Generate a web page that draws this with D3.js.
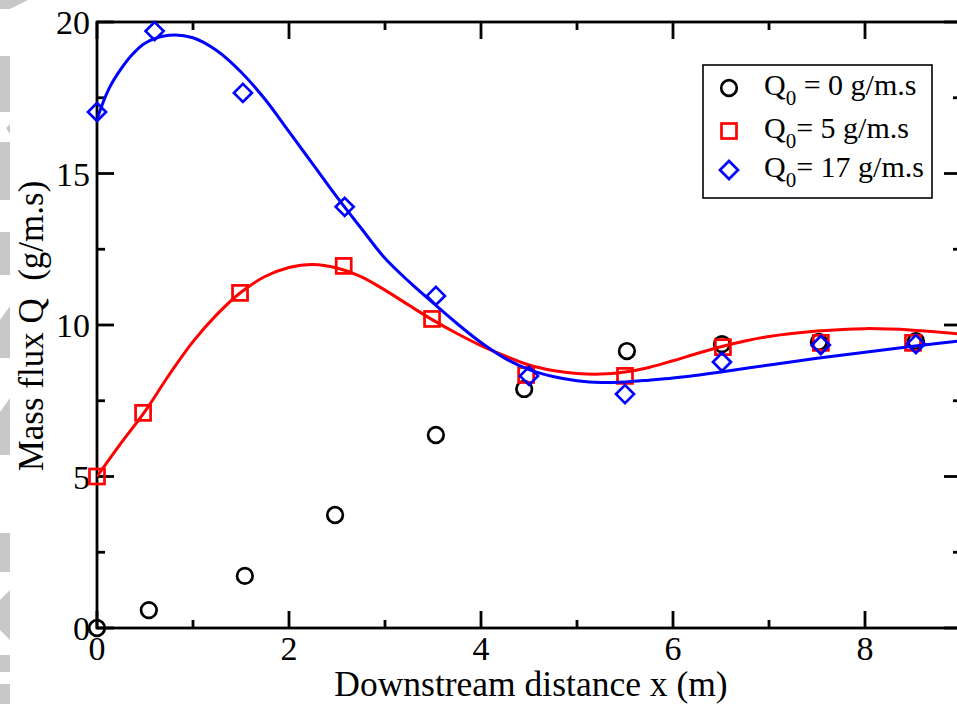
<!DOCTYPE html>
<html><head><meta charset="utf-8">
<script src="https://cdn.jsdelivr.net/npm/d3@7"></script>
<style>body{margin:0;background:#fff}svg{display:block}text{font-family:"Liberation Serif","Times New Roman",serif;fill:#000}</style>
</head><body><svg id="c" width="957" height="704"></svg>
<script>
// ---- data ----
const xTicksMajor = [0, 2, 4, 6, 8];
const xTicksMinor = [1, 3, 5, 7, 9];
const yTicksMajor = [0, 5, 10, 15, 20];
const yTicksMinor = [2.5, 7.5, 12.5, 17.5];

const q0_x = [0, 0.54, 1.54, 2.48, 3.53, 4.45, 5.52, 6.51, 7.52, 8.53];
const q0_y = [0, 0.59, 1.72, 3.73, 6.37, 7.89, 9.14, 9.37, 9.44, 9.47];

const q5_x = [0, 0.48, 1.49, 2.57, 3.49, 4.47, 5.5, 6.52, 7.54, 8.5];
const q5_y = [5.0, 7.1, 11.06, 11.95, 10.2, 8.35, 8.32, 9.27, 9.41, 9.41];

const q17_x = [0, 0.6, 1.52, 2.58, 3.53, 4.5, 5.5, 6.51, 7.54, 8.53];
const q17_y = [17.03, 19.7, 17.66, 13.9, 10.96, 8.32, 7.72, 8.78, 9.34, 9.37];

const fit5_x = [0, 0.25, 0.5, 0.75, 1.0, 1.25, 1.5, 1.75, 2.0, 2.25, 2.5, 2.75, 3.0, 3.25, 3.5, 3.75, 4.0, 4.25, 4.5, 4.75, 5.0, 5.25, 5.5, 5.75, 6.0, 6.25, 6.5, 6.75, 7.0, 7.5, 8.0, 8.5, 9.0];
const fit5_y = [5.0, 6.1, 7.15, 8.35, 9.45, 10.35, 11.08, 11.6, 11.9, 12.0, 11.88, 11.6, 11.15, 10.65, 10.16, 9.72, 9.32, 8.98, 8.68, 8.5, 8.4, 8.38, 8.45, 8.6, 8.82, 9.06, 9.28, 9.47, 9.62, 9.8, 9.88, 9.83, 9.7];

const fit17_x = [0, 0.125, 0.25, 0.375, 0.5, 0.75, 1.0, 1.25, 1.5, 1.75, 2.0, 2.25, 2.5, 2.75, 3.0, 3.25, 3.5, 3.75, 4.0, 4.25, 4.5, 4.75, 5.0, 5.25, 5.5, 5.75, 6.0, 6.5, 7.0, 7.5, 8.0, 8.5, 9.0];
const fit17_y = [16.8, 17.8, 18.45, 18.95, 19.3, 19.56, 19.48, 19.05, 18.35, 17.45, 16.38, 15.3, 14.22, 13.2, 12.2, 11.43, 10.73, 10.05, 9.42, 8.9, 8.53, 8.3, 8.16, 8.1, 8.12, 8.18, 8.25, 8.45, 8.68, 8.9, 9.1, 9.3, 9.48];

const legendLabels = [["Q", "0", " = 0 g/m.s"], ["Q", "0", "= 5 g/m.s"], ["Q", "0", "= 17 g/m.s"]];
const xTitle = "Downstream distance x (m)";
const yTitle = "Mass flux Q  (g/m.s)";

// ---- drawing ----
const svg = d3.select("#c");
const L = 97, R = 961, T = 22, B = 628;
const x = d3.scaleLinear().domain([0, 9]).range([L, R]);
const y = d3.scaleLinear().domain([0, 20]).range([B, T]);

// faint background artifacts on left edge
const gray = "#c8c8c8";
const gshapes = [
  [[0,0],[28,0],[10,9],[0,9]],
  [[0,56],[10,56],[10,112],[0,112]],
  [[6,128],[10,124],[10,134]],
  [[0,142],[10,142],[10,200],[0,200]],
  [[0,232],[10,232],[10,275],[0,275]],
  [[0,320],[10,306],[10,358],[0,358]],
  [[0,412],[10,398],[10,455],[0,455]],
  [[0,533],[10,533],[10,572],[0,572]],
  [[0,600],[10,590],[10,640],[0,630]],
  [[0,655],[10,655],[10,672],[0,672]],
  [[0,684],[10,684],[10,704],[0,704]]
];
svg.selectAll("polygon.g").data(gshapes).join("polygon").attr("class","g")
  .attr("points", d => d.map(p => p.join(",")).join(" ")).attr("fill", gray);

const ax = svg.append("g").attr("stroke", "#000").attr("stroke-width", 2.8).attr("fill", "none");
ax.append("rect").attr("x", L).attr("y", T).attr("width", R - L).attr("height", B - T);
xTicksMajor.concat(xTicksMinor).forEach(v => {
  const len = xTicksMajor.includes(v) ? 17 : 8;
  ax.append("line").attr("x1", x(v)).attr("x2", x(v)).attr("y1", B).attr("y2", B - len);
  ax.append("line").attr("x1", x(v)).attr("x2", x(v)).attr("y1", T).attr("y2", T + len);
});
yTicksMajor.concat(yTicksMinor).forEach(v => {
  const len = yTicksMajor.includes(v) ? 17 : 8;
  ax.append("line").attr("y1", y(v)).attr("y2", y(v)).attr("x1", L).attr("x2", L + len);
  ax.append("line").attr("y1", y(v)).attr("y2", y(v)).attr("x1", R).attr("x2", R - len);
});

// tick labels
svg.selectAll("text.xt").data(xTicksMajor).join("text").attr("class","xt")
  .attr("x", d => x(d)).attr("y", 660).attr("text-anchor","middle").attr("font-size", 34).text(d => d);
svg.selectAll("text.yt").data(yTicksMajor).join("text").attr("class","yt")
  .attr("x", 90).attr("y", d => y(d) + 12).attr("text-anchor","end").attr("font-size", 34).text(d => d);

// titles
svg.append("text").attr("x", 531).attr("y", 696).attr("text-anchor","middle").attr("font-size", 35.5).text(xTitle);
svg.append("text").attr("transform", "translate(43,326) rotate(-90)").attr("text-anchor","middle")
  .attr("font-size", 35).style("white-space","pre").text(yTitle);

// markers
const circle = (g, cx, cy) => g.append("circle").attr("cx", cx).attr("cy", cy).attr("r", 7.8)
  .attr("fill","none").attr("stroke","#000").attr("stroke-width", 2.7);
const square = (g, cx, cy) => g.append("rect").attr("x", cx - 7.5).attr("y", cy - 7.5).attr("width", 15).attr("height", 15)
  .attr("fill","none").attr("stroke","#ff0000").attr("stroke-width", 2.7);
const diamond = (g, cx, cy) => g.append("path").attr("d", `M${cx},${cy-9}L${cx+9},${cy}L${cx},${cy+9}L${cx-9},${cy}Z`)
  .attr("fill","none").attr("stroke","#0000ff").attr("stroke-width", 2.7);

svg.append("defs").append("clipPath").attr("id","clp").append("rect")
  .attr("x", L).attr("y", T).attr("width", R - L).attr("height", B - T);

const line = d3.line().x(d => x(d[0])).y(d => y(d[1])).curve(d3.curveCatmullRom.alpha(0.5));
const pg = svg.append("g");
q0_x.forEach((v, i) => circle(pg, x(v), y(q0_y[i])));
q5_x.forEach((v, i) => square(pg, x(v), y(q5_y[i])));
svg.append("path").attr("clip-path","url(#clp)").attr("d", line(fit5_x.map((v, i) => [v, fit5_y[i]])))
  .attr("fill","none").attr("stroke","#ff0000").attr("stroke-width", 3);
const pg2 = svg.append("g");
q17_x.forEach((v, i) => diamond(pg2, x(v), y(q17_y[i])));
svg.append("path").attr("clip-path","url(#clp)").attr("d", line(fit17_x.map((v, i) => [v, fit17_y[i]])))
  .attr("fill","none").attr("stroke","#0000ff").attr("stroke-width", 3);

// legend
const lg = svg.append("g");
lg.append("rect").attr("x", 703).attr("y", 65).attr("width", 229).attr("height", 133)
  .attr("fill","#fff").attr("stroke","#000").attr("stroke-width", 1.6);
const rowsY = [95, 138, 177];
const syms = [circle, square, diamond];
legendLabels.forEach((lab, i) => {
  syms[i](lg, 729, rowsY[i] - 7);
  const t = lg.append("text").attr("x", 764).attr("y", rowsY[i]).attr("font-size", 30).style("white-space","pre");
  t.append("tspan").text(lab[0]);
  t.append("tspan").attr("font-size", 21).attr("dy", 10).text(lab[1]);
  t.append("tspan").attr("dy", -10).text(lab[2]);
});
</script></body></html>
